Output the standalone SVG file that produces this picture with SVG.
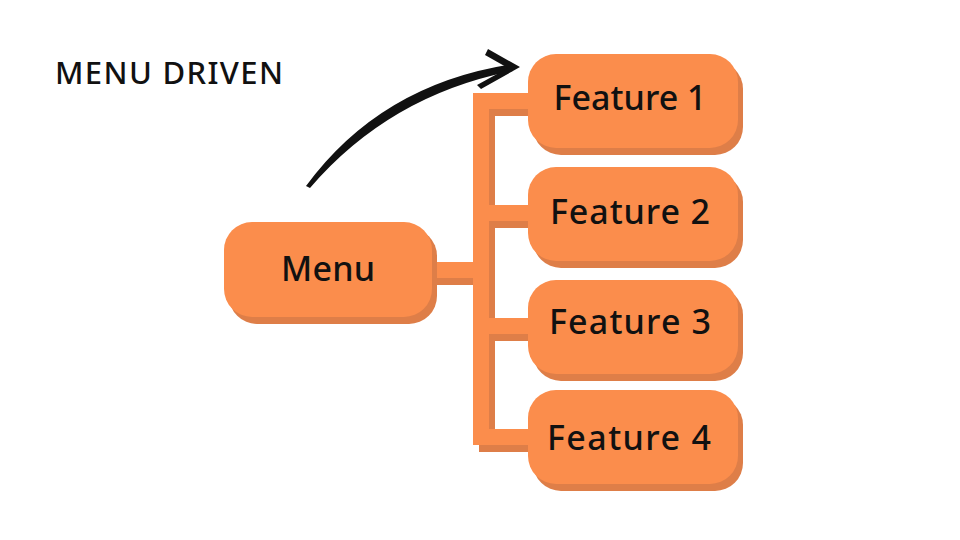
<svg xmlns="http://www.w3.org/2000/svg" width="960" height="540" viewBox="0 0 960 540">
<style>
.box{fill:#FB8D4C}
.sh{fill:#DE7E48}
.lbl{font-family:"Noto Sans","Liberation Sans",sans-serif;font-weight:500;font-size:34px;fill:#111;text-anchor:middle}
.title{font-family:"Noto Sans","Liberation Sans",sans-serif;font-weight:500;font-size:31px;fill:#111}
.brk{fill:none;stroke-width:16;stroke-linejoin:miter}
</style>
<rect width="960" height="540" fill="#fff"/>
<text class="title" x="55" y="84" textLength="228">MENU DRIVEN</text>
<g id="connectors">
<path class="brk" stroke="#DE7E48" transform="translate(6,7)" d="M530,101 H481 V437 H530 M481,213 H530 M481,326 H530 M430,270 H481"/>
<path class="brk" stroke="#FB8D4C" d="M530,101 H481 V437 H530 M481,213 H530 M481,326 H530 M430,270 H481"/>
<path d="M306,186 Q381,84 513,64 L513,71 Q390,95 310,188 Z" fill="#111"/>
<path d="M488,49 L520,67 L481,89 L477,85 L508,68 L485,55 Z" fill="#111"/>
</g>
<g id="menu">
<rect class="sh" x="229" y="228" width="208" height="96" rx="28"/>
<rect class="box" x="224" y="222" width="208" height="95" rx="28"/>
<text class="lbl" x="328" y="281" textLength="94">Menu</text>
</g>
<g id="feature1">
<rect class="sh" x="533" y="61" width="210" height="94" rx="28"/>
<rect class="box" x="528" y="54" width="210" height="94" rx="28"/>
<text class="lbl" x="630" y="110" textLength="153">Feature 1</text>
</g>
<g id="feature2">
<rect class="sh" x="533" y="174" width="210" height="94" rx="28"/>
<rect class="box" x="528" y="167" width="210" height="94" rx="28"/>
<text class="lbl" x="630" y="224" textLength="160">Feature 2</text>
</g>
<g id="feature3">
<rect class="sh" x="533" y="287" width="210" height="94" rx="28"/>
<rect class="box" x="528" y="280" width="210" height="94" rx="28"/>
<text class="lbl" x="630" y="334" textLength="162">Feature 3</text>
</g>
<g id="feature4">
<rect class="sh" x="533" y="397" width="210" height="94" rx="28"/>
<rect class="box" x="528" y="390" width="210" height="94" rx="28"/>
<text class="lbl" x="629" y="450" textLength="164">Feature 4</text>
</g>
</svg>
